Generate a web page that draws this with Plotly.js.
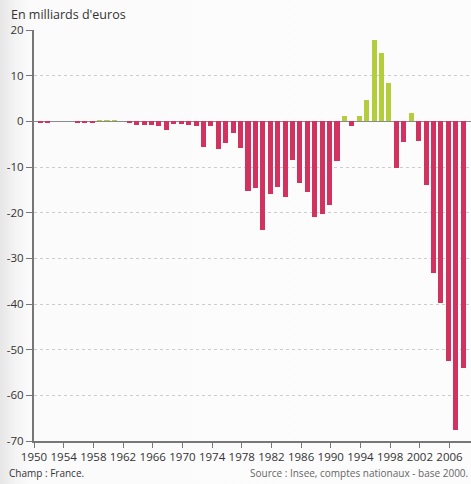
<!DOCTYPE html>
<html>
<head>
<meta charset="utf-8">
<script src="https://cdn.plot.ly/plotly-3.0.1.min.js"></script>
<style>
  html, body { margin: 0; padding: 0; }
  body { width: 471px; height: 484px; overflow: hidden;
         background: linear-gradient(to right, #e6e6e6 0px, #f3f3f3 14px, #fbfbfb 30px, #fcfcfc 100%); }
  #chart { width: 471px; height: 484px; }
</style>
</head>
<body>
<div id="chart"></div>
<script>
// Solde en milliards d'euros, France
const years = [1950,1951,1952,1953,1954,1955,1956,1957,1958,1959,
               1960,1961,1962,1963,1964,1965,1966,1967,1968,1969,
               1970,1971,1972,1973,1974,1975,1976,1977,1978,1979,
               1980,1981,1982,1983,1984,1985,1986,1987,1988,1989,
               1990,1991,1992,1993,1994,1995,1996,1997,1998,1999,
               2000,2001,2002,2003,2004,2005,2006,2007,2008];
const values = [0,-0.3,-0.3,0,0,0,-0.3,-0.3,-0.3,0.3,
                0.3,0.3,0,-0.4,-0.7,-0.7,-0.7,-1.0,-1.8,-0.5,
                -0.6,-0.7,-1.1,-5.7,-1.0,-6.1,-4.7,-2.6,-5.8,-15.2,
                -14.6,-23.8,-16.0,-14.3,-16.5,-8.5,-13.4,-15.5,-21.0,-20.3,
                -18.3,-8.6,1.2,-1.0,1.2,4.7,17.8,15.0,8.5,-10.3,
                -4.5,1.8,-4.2,-14.0,-33.3,-39.8,-52.5,-67.6,-54.0];
const xTickVals = [1950,1954,1958,1962,1966,1970,1974,1978,1982,1986,1990,1994,1998,2002,2006,2010];
const xTickText = ['1950','1954','1958','1962','1966','1970','1974','1978','1982','1986','1990','1994','1998','2002','2006',''];
const yTickVals = [20,10,0,-10,-20,-30,-40,-50,-60,-70];
const yTickText = ['20','10','0','-10','-20','-30','-40','-50','-60','-70'];
const unitLabel = "En milliards d'euros";
const fieldNote = "Champ : France.";
const sourceNote = "Source : Insee, comptes nationaux - base 2000.";

const RED = '#d2325f', GREEN = '#b4cd3c';
const FONT = '"Open Sans", "Noto Sans", sans-serif';

const trace = {
  type: 'bar',
  x: years,
  y: values,
  width: 0.68,
  offset: -0.5,
  marker: { color: values.map(v => v > 0 ? GREEN : RED), line: { width: 0 } },
  hoverinfo: 'x+y'
};

const layout = {
  width: 471, height: 484,
  margin: { l: 34, r: 0, t: 30, b: 43, pad: 0 },
  paper_bgcolor: 'rgba(0,0,0,0)',
  plot_bgcolor: 'rgba(0,0,0,0)',
  showlegend: false,
  bargap: 0,
  font: { family: FONT, color: '#333', size: 11 },
  title: {
    text: unitLabel,
    xref: 'container', yref: 'container',
    x: 11 / 471, xanchor: 'left',
    y: 1 - 15 / 484, yanchor: 'middle',
    font: { family: FONT, size: 12.5, color: '#333' }
  },
  xaxis: {
    range: [1950, 2008.9],
    tickmode: 'array', tickvals: xTickVals, ticktext: xTickText,
    tickangle: 0,
    ticks: 'outside', ticklen: 5, tickwidth: 1, tickcolor: '#777',
    showline: true, linecolor: '#777', linewidth: 1.5,
    showgrid: false, zeroline: false,
    tickfont: { family: FONT, size: 11.5, color: '#333' },
    fixedrange: true
  },
  yaxis: {
    range: [-70, 20],
    tickmode: 'array', tickvals: yTickVals, ticktext: yTickText,
    ticks: 'outside', ticklen: 6, tickwidth: 1, tickcolor: '#777',
    showline: true, linecolor: '#777', linewidth: 2,
    showgrid: true, gridcolor: '#cccccc', griddash: '3px,3px', gridwidth: 1,
    zeroline: true, zerolinecolor: '#8a8a8a', zerolinewidth: 1,
    tickfont: { family: FONT, size: 11.5, color: '#333' },
    fixedrange: true
  },
  annotations: [
    { text: fieldNote, xref: 'paper', yref: 'paper',
      x: (7 - 34) / 437, y: -(473 - 441) / 411, xanchor: 'left', yanchor: 'middle',
      showarrow: false, font: { family: FONT, size: 10, color: '#333' } },
    { text: sourceNote, xref: 'paper', yref: 'paper',
      x: (470 - 34) / 437, y: -(473 - 441) / 411, xanchor: 'right', yanchor: 'middle',
      showarrow: false, font: { family: FONT, size: 10, color: '#666' } }
  ]
};

Plotly.newPlot('chart', [trace], layout, { displayModeBar: false, staticPlot: true });
</script>
</body>
</html>
